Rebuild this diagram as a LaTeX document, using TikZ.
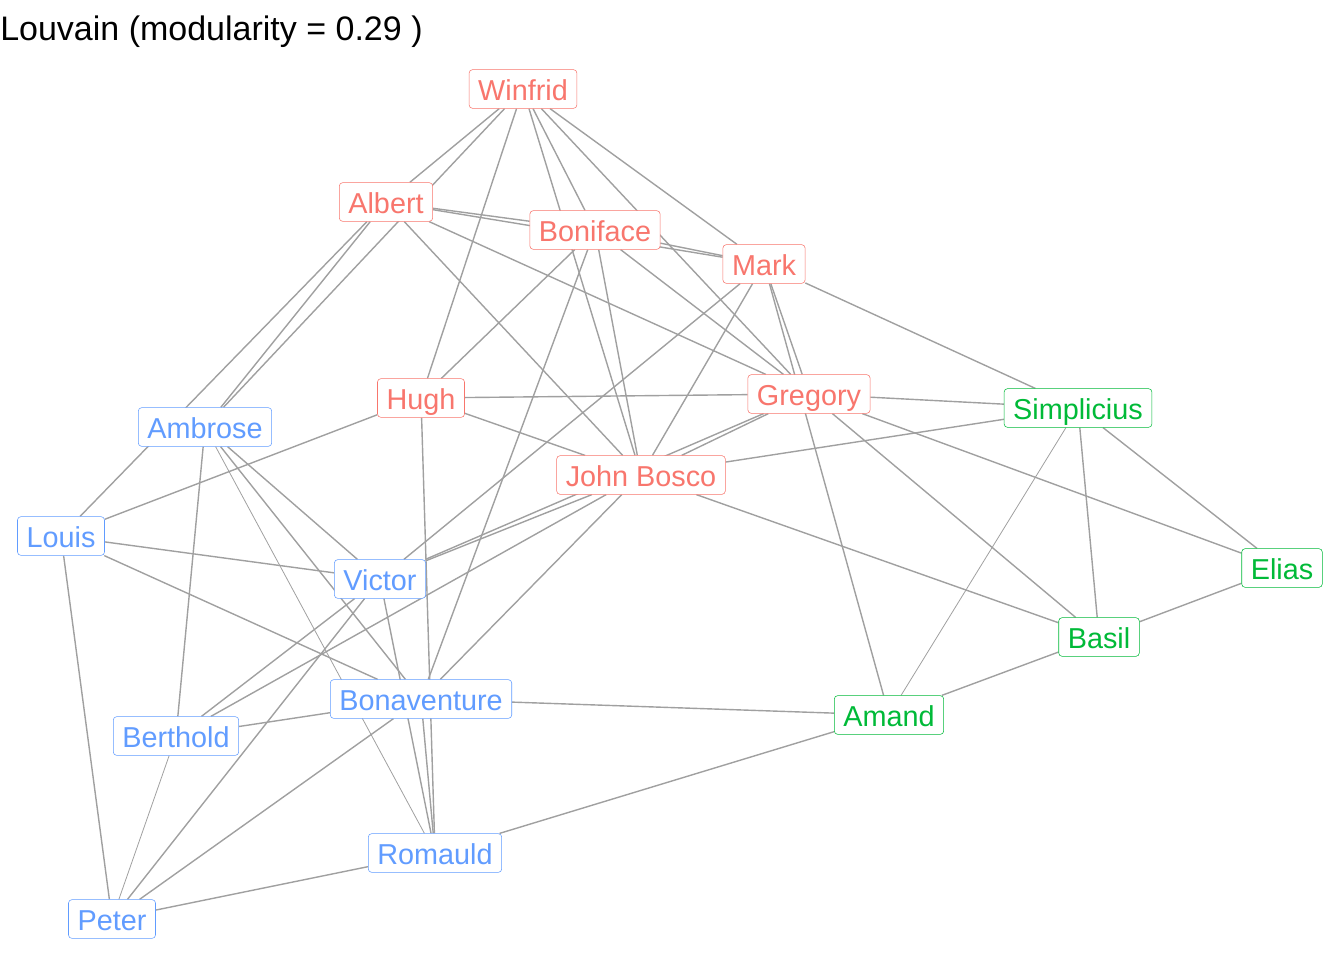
\documentclass[tikz,border=0pt]{standalone}
\usepackage{fontspec}
\setmainfont{Liberation Sans}
\usetikzlibrary{backgrounds}
\definecolor{turkred}{HTML}{F8766D}
\definecolor{loyalblue}{HTML}{619CFF}
\definecolor{outcastgreen}{HTML}{00BA38}
\definecolor{edgegray}{HTML}{A0A0A0}

\begin{document}
\begin{tikzpicture}[x=0.75pt,y=-0.75pt,every node/.style={font=\fontsize{21.6}{24}\selectfont},lab/.style={draw,fill=white,rounded corners=2.5pt,inner xsep=6.8pt,inner ysep=0pt,minimum height=29pt,text height=18.4pt,text depth=1.6pt},turk/.style={lab,draw=turkred,text=turkred},loyal/.style={lab,draw=loyalblue,text=loyalblue},outcast/.style={lab,draw=outcastgreen,text=outcastgreen},edge/.style={draw=edgegray,line width=1.05pt},thinedge/.style={edge,line width=0.6pt}]
\useasboundingbox (0,0) rectangle (1344,960);
\node[anchor=west,inner sep=0pt,font=\fontsize{25.5}{28}\selectfont] (title) at (0,32) {Louvain (modularity = 0.29 )};
\node[turk] (winfrid) at (523,89) {Winfrid};
\node[turk] (albert) at (386,202) {Albert};
\node[turk] (boniface) at (595,230) {Boniface};
\node[turk] (mark) at (764,264) {Mark};
\node[turk] (hugh) at (421,398) {Hugh};
\node[turk] (gregory) at (809,394) {Gregory};
\node[turk] (john) at (641,475) {John Bosco};
\node[outcast] (simplicius) at (1078,408) {Simplicius};
\node[outcast] (elias) at (1282,568) {Elias};
\node[outcast] (basil) at (1099,637) {Basil};
\node[outcast] (amand) at (889,715) {Amand};
\node[loyal] (ambrose) at (205,427) {Ambrose};
\node[loyal] (louis) at (61,536) {Louis};
\node[loyal] (victor) at (380,579) {Victor};
\node[loyal] (bonaventure) at (421,699) {Bonaventure};
\node[loyal] (berthold) at (176,736) {Berthold};
\node[loyal] (romauld) at (435,853) {Romauld};
\node[loyal] (peter) at (112,919) {Peter};
\begin{scope}[on background layer]
\draw[edge] (winfrid)--(albert);\draw[edge] (winfrid)--(ambrose);\draw[edge] (winfrid)--(hugh);\draw[edge] (winfrid)--(john);
\draw[edge] (winfrid)--(boniface);\draw[edge] (winfrid)--(gregory);\draw[edge] (winfrid)--(mark);
\draw[edge] (albert)--(ambrose);\draw[edge] (albert)--(louis);\draw[edge] (albert)--(boniface);\draw[edge] (albert)--(mark);
\draw[edge] (albert)--(gregory);\draw[edge] (albert)--(john);
\draw[edge] (boniface)--(mark);\draw[edge] (boniface)--(hugh);\draw[edge] (boniface)--(bonaventure);\draw[edge] (boniface)--(john);\draw[edge] (boniface)--(gregory);
\draw[edge] (mark)--(victor);\draw[edge] (mark)--(john);\draw[edge] (mark)--(gregory);\draw[edge] (mark)--(amand);\draw[edge] (mark)--(simplicius);
\draw[edge] (gregory)--(hugh);\draw[edge] (gregory)--(john);\draw[edge] (gregory)--(victor);\draw[edge] (gregory)--(simplicius);\draw[edge] (gregory)--(elias);\draw[edge] (gregory)--(basil);
\draw[edge] (hugh)--(john);\draw[edge] (hugh)--(louis);\draw[edge] (hugh)--(romauld);
\draw[edge] (john)--(victor);\draw[edge] (john)--(bonaventure);\draw[edge] (john)--(basil);\draw[edge] (john)--(simplicius);\draw[edge] (john)--(berthold);
\draw[edge] (simplicius)--(elias);\draw[edge] (simplicius)--(basil);\draw[thinedge] (simplicius)--(amand);
\draw[edge] (elias)--(basil);\draw[edge] (basil)--(amand);\draw[edge] (amand)--(bonaventure);\draw[edge] (amand)--(romauld);
\draw[edge] (ambrose)--(berthold);\draw[thinedge] (ambrose)--(romauld);\draw[edge] (ambrose)--(bonaventure);\draw[edge] (ambrose)--(victor);
\draw[edge] (louis)--(victor);\draw[edge] (louis)--(bonaventure);\draw[edge] (louis)--(peter);
\draw[edge] (victor)--(romauld);\draw[edge] (victor)--(berthold);\draw[edge] (victor)--(peter);
\draw[edge] (berthold)--(bonaventure);\draw[thinedge] (berthold)--(peter);
\draw[edge] (peter)--(bonaventure);\draw[edge] (peter)--(romauld);\draw[edge] (bonaventure)--(romauld);
\end{scope}
\end{tikzpicture}
\end{document}
